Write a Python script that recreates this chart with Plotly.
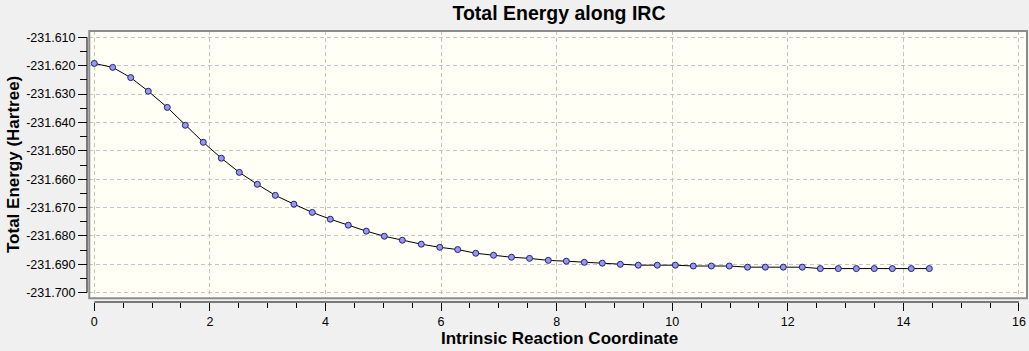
import plotly.graph_objects as go

# ---------------- data ----------------
irc = [0.000, 0.318, 0.630, 0.934, 1.263, 1.575, 1.886, 2.198, 2.509, 2.821,
       3.132, 3.454, 3.772, 4.084, 4.395, 4.707, 5.018, 5.330, 5.658, 5.977,
       6.288, 6.600, 6.908, 7.219, 7.531, 7.856, 8.168, 8.479, 8.790, 9.102,
       9.413, 9.742, 10.054, 10.365, 10.677, 10.988, 11.303, 11.611, 11.922,
       12.251, 12.563, 12.874, 13.186, 13.497, 13.809, 14.137, 14.449]

energy = [-231.6192, -231.6206, -231.6242, -231.6290, -231.6347, -231.6410,
          -231.6470, -231.6526, -231.6576, -231.6618, -231.6657, -231.6688,
          -231.6717, -231.6741, -231.6762, -231.6783, -231.6801, -231.6815,
          -231.6829, -231.6840, -231.6848, -231.6861, -231.6868, -231.6875,
          -231.6879, -231.6886, -231.6889, -231.6893, -231.6896, -231.6900,
          -231.6903, -231.6903, -231.6903, -231.6906, -231.6906, -231.6906,
          -231.6910, -231.6910, -231.6910, -231.6910, -231.6915, -231.6915,
          -231.6915, -231.6915, -231.6915, -231.6915, -231.6915]

x_tick_vals = [0, 2, 4, 6, 8, 10, 12, 14, 16]
x_tick_text = ["0", "2", "4", "6", "8", "10", "12", "14", "16"]
y_tick_vals = [-231.610, -231.620, -231.630, -231.640, -231.650, -231.660,
               -231.670, -231.680, -231.690, -231.700]
y_tick_text = ["-231.610", "-231.620", "-231.630", "-231.640", "-231.650",
               "-231.660", "-231.670", "-231.680", "-231.690", "-231.700"]

title_text = "Total Energy along IRC"
x_title = "Intrinsic Reaction Coordinate"
y_title = "Total Energy (Hartree)"

# ---------------- layout geometry ----------------
W, H = 1029, 351
ML, MR, MT, MB = 87, 2, 31, 49
PW = W - ML - MR
PH = H - MT - MB


def px_x(p):
    return (p - ML) / PW


def px_y(p):
    return (H - MB - p) / PH


FONT = "Liberation Sans, Arial, sans-serif"
GRID = "#c4c4c4"

fig = go.Figure()
fig.add_trace(go.Scatter(
    x=irc, y=energy, mode="lines+markers",
    line=dict(color="black", width=1),
    marker=dict(size=6, color="#9898e8", line=dict(color="#202080", width=1)),
    showlegend=False, hoverinfo="x+y",
))

fig.update_layout(
    width=W, height=H,
    margin=dict(l=ML, r=MR, t=MT, b=MB, pad=0),
    paper_bgcolor="#f0f0f0",
    plot_bgcolor="#fffff6",
    font=dict(family=FONT, size=12.5, color="#000000"),
    title=dict(text=title_text, x=559 / W, xref="container", xanchor="center",
               y=1 - 13 / H, yref="container", yanchor="middle",
               font=dict(family=FONT, size=19.5, weight="bold", color="#000000")),
    xaxis=dict(
        domain=[px_x(89.3), 1], range=[-0.0865, 16.139],
        anchor="free", position=0,
        tickmode="array", tickvals=x_tick_vals, ticktext=x_tick_text,
        ticks="outside", ticklen=8, tickwidth=1, tickcolor="#000000",
        showline=False, zeroline=False,
        showgrid=True, gridcolor=GRID, gridwidth=1, griddash="4px,3px",
        minor=dict(tickmode="linear", tick0=0, dtick=0.5, ticks="outside",
                   ticklen=5, tickwidth=1, tickcolor="#000000", showgrid=False),
        tickfont=dict(family=FONT, size=12.5, color="#000000"),
        fixedrange=True,
    ),
    yaxis=dict(
        domain=[px_y(298.3), 1], range=[-231.70197, -231.60778],
        anchor="free", position=0,
        tickmode="array", tickvals=y_tick_vals, ticktext=y_tick_text,
        ticks="outside", ticklen=9, tickwidth=1, tickcolor="#000000",
        showline=False, zeroline=False,
        showgrid=True, gridcolor=GRID, gridwidth=1, griddash="4px,3px",
        minor=dict(tickmode="linear", tick0=-231.70, dtick=0.005, ticks="outside",
                   ticklen=7, tickwidth=1, tickcolor="#000000", showgrid=False),
        tickfont=dict(family=FONT, size=12.5, color="#000000"),
        fixedrange=True,
    ),
    shapes=[
        dict(type="rect", xref="x domain", yref="y domain", x0=0, x1=1, y0=0, y1=1,
             line=dict(color="#8c8c8c", width=2), layer="above"),
        dict(type="line", xref="x", yref="paper", x0=x_tick_vals[0], x1=x_tick_vals[-1],
             y0=0, y1=0, line=dict(color="#000000", width=1)),
        dict(type="line", xref="paper", yref="y", x0=0, x1=0,
             y0=y_tick_vals[-1], y1=y_tick_vals[0], line=dict(color="#000000", width=1)),
    ],
    annotations=[
        dict(text=x_title, xref="paper", yref="paper", x=px_x(559), y=px_y(338.7),
             xanchor="center", yanchor="middle", showarrow=False,
             font=dict(family=FONT, size=17, weight="bold", color="#000000")),
        dict(text=y_title, xref="paper", yref="paper", x=px_x(13), y=px_y(165),
             xanchor="center", yanchor="middle", showarrow=False, textangle=-90,
             font=dict(family=FONT, size=17, weight="bold", color="#000000")),
    ],
)

fig.write_html("out.html", config={"displayModeBar": False})
